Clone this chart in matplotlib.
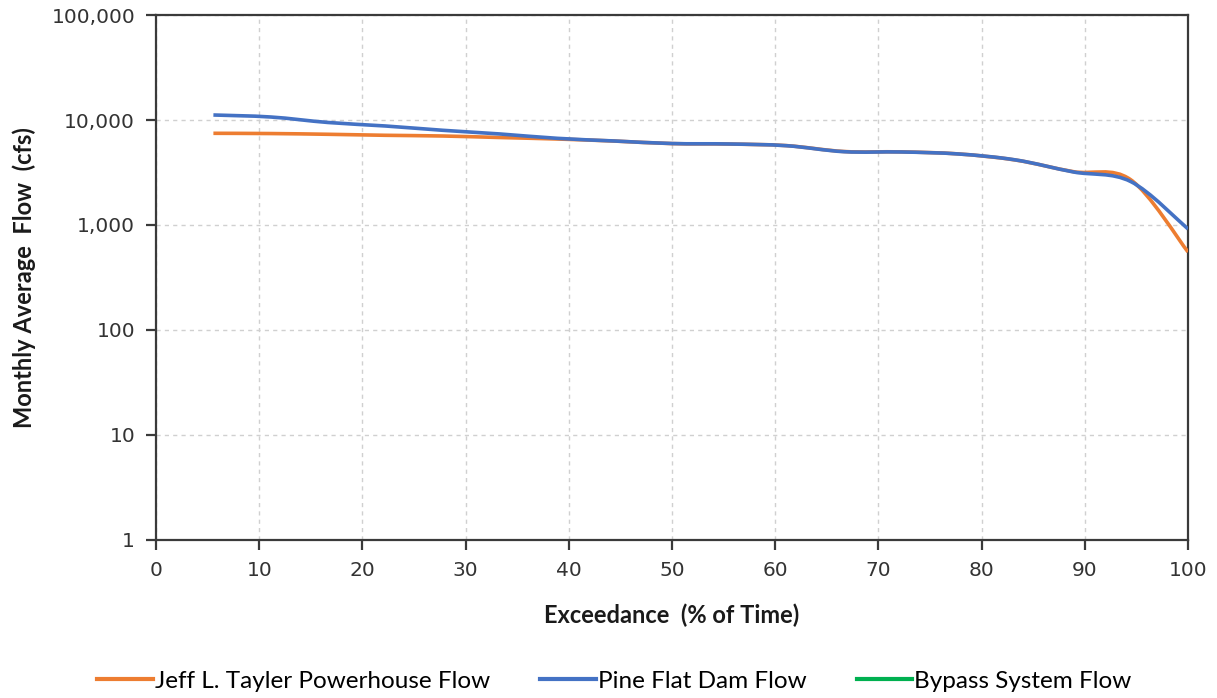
import numpy as np
import matplotlib
matplotlib.use("Agg")
import matplotlib.pyplot as plt
from matplotlib.path import Path
from matplotlib.patches import PathPatch
from matplotlib.lines import Line2D
from matplotlib.ticker import FuncFormatter, FixedLocator

# exceedance (% of time) for the 18 monthly values, ranked
exceedance = [5.56, 11.11, 16.67, 22.22, 27.78, 33.33, 38.89, 44.44, 50.0,
              55.56, 61.11, 66.67, 72.22, 77.78, 83.33, 88.89, 94.44, 100.0]

# monthly average flow (cfs)
powerhouse_flow = [7470, 7430, 7310, 7150, 7040, 6810, 6590, 6300, 5960,
                   5900, 5700, 5010, 4970, 4750, 4150, 3220, 2700, 553]
pine_flat_flow = [11160, 10680, 9470, 8770, 7980, 7360, 6690, 6310, 5970,
                  5910, 5690, 4990, 4960, 4745, 4160, 3200, 2595, 916]
bypass_flow = [0, 0, 0, 0, 0, 0, 0, 0, 0,
               0, 0, 0, 0, 0, 0, 0, 0, 0]

series_names = ["Jeff L. Tayler Powerhouse Flow", "Pine Flat Dam Flow", "Bypass System Flow"]
series_colors = ["#ED7D31", "#4472C4", "#00B050"]

x_ticks = [0, 10, 20, 30, 40, 50, 60, 70, 80, 90, 100]
y_ticks = [1, 10, 100, 1000, 10000, 100000]

LABEL_FONT = ["Lato", "DejaVu Sans"]


def smooth_path(xs, ys):
    """Spreadsheet-style smoothed line: cubic Bezier segments through every
    point, control points taken in (x, log10 y) space so they follow the log axis."""
    xs = np.asarray(xs, dtype=float)
    ys = np.asarray(ys, dtype=float)
    keep = ys > 0
    xs, ly = xs[keep], np.log10(ys[keep])
    if len(xs) < 2:
        return None
    px = np.concatenate([[xs[0]], xs, [xs[-1]]])
    py = np.concatenate([[ly[0]], ly, [ly[-1]]])
    verts = [(px[1], py[1])]
    codes = [Path.MOVETO]
    for i in range(1, len(px) - 2):
        c1 = (px[i] + (px[i + 1] - px[i - 1]) / 6, py[i] + (py[i + 1] - py[i - 1]) / 6)
        c2 = (px[i + 1] - (px[i + 2] - px[i]) / 6, py[i + 1] - (py[i + 2] - py[i]) / 6)
        verts += [c1, c2, (px[i + 1], py[i + 1])]
        codes += [Path.CURVE4] * 3
    verts = [(vx, 10 ** vy) for vx, vy in verts]
    return Path(verts, codes)


fig = plt.figure(figsize=(12.17, 6.98), dpi=100)
ax = fig.add_axes([0.1282, 0.2264, 0.8480, 0.7521])

ax.set_yscale("log", nonpositive="mask")
ax.set_xlim(0, 100)
ax.set_ylim(1, 100000)

for values, color in zip([powerhouse_flow, pine_flat_flow, bypass_flow], series_colors):
    path = smooth_path(exceedance, values)
    if path is not None:
        ax.add_patch(PathPatch(path, facecolor="none", edgecolor=color,
                               linewidth=2.6, capstyle="butt", zorder=3))

ax.xaxis.set_major_locator(FixedLocator(x_ticks))
ax.yaxis.set_major_locator(FixedLocator(y_ticks))
ax.yaxis.set_minor_locator(FixedLocator([]))
ax.yaxis.set_major_formatter(FuncFormatter(lambda v, _: f"{v:,.0f}"))

ax.grid(True, which="major", color="#d0d0d0", linestyle=(0, (3, 3)), linewidth=1.0)
ax.set_axisbelow(True)

for side in ["left", "bottom", "top", "right"]:
    ax.spines[side].set_color("#3a3a3a")
    ax.spines[side].set_linewidth(1.6)

ax.tick_params(axis="both", which="major", direction="out", length=7, width=1.6,
               color="#3a3a3a", labelsize=14.5, labelcolor="#333333", pad=8)

ax.set_xlabel("Exceedance  (% of Time)", fontsize=17, fontweight="bold",
              family=LABEL_FONT, color="#1a1a1a", labelpad=17)
ax.set_ylabel("Monthly Average  Flow  (cfs)", fontsize=17, fontweight="bold",
              family=LABEL_FONT, color="#1a1a1a", labelpad=11)

handles = [Line2D([0], [0], color=c, linewidth=3) for c in series_colors]
fig.legend(handles, series_names, loc="center", bbox_to_anchor=(0.505, 0.024),
           ncol=3, frameon=False, handlelength=2.3, handletextpad=0.08,
           columnspacing=2.05, prop={"family": LABEL_FONT, "size": 17.5})

fig.savefig("out.png", dpi=100)
